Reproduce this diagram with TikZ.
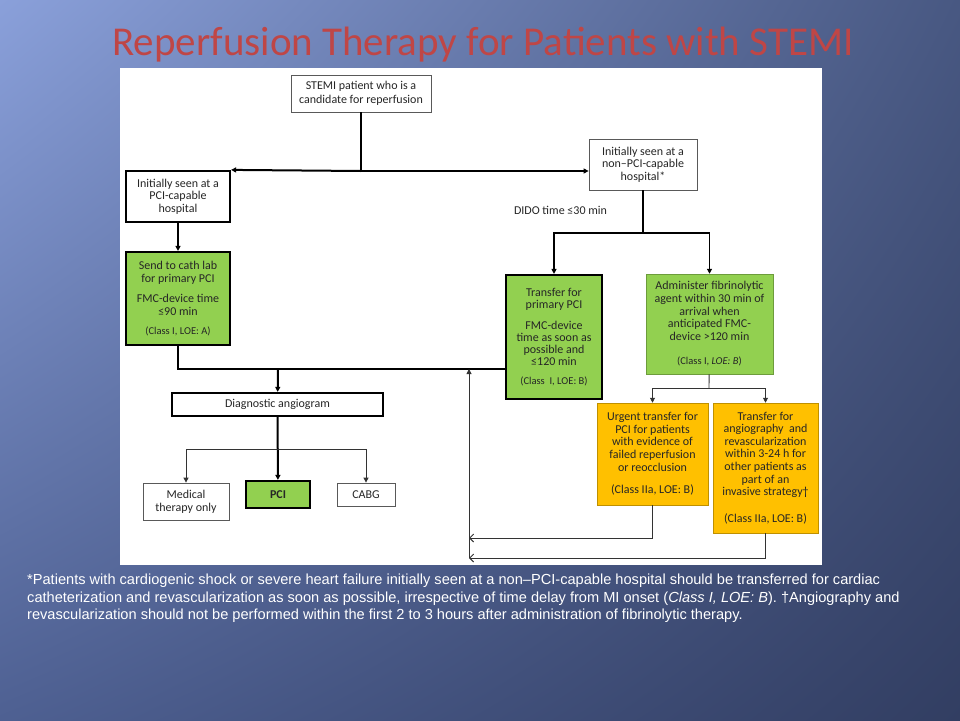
\documentclass[tikz,border=0pt]{standalone}
\usepackage{fontspec}
\setmainfont{Carlito}
\newfontfamily\notefont{Liberation Sans}
\usetikzlibrary{arrows.meta,shadings}

\definecolor{pcigreen}{HTML}{92D050}
\definecolor{lateyellow}{HTML}{FFC000}
\definecolor{titlered}{HTML}{BF4646}
\definecolor{bgul}{RGB}{138,160,218}
\definecolor{bgur}{RGB}{72,88,130}
\definecolor{bgll}{RGB}{78,96,146}
\definecolor{bglr}{RGB}{50,62,98}

\newcommand{\loe}[1]{{\fontsize{10.5}{12}\selectfont #1}}

\begin{document}
\begin{tikzpicture}[x=1pt,y=-1pt]
    \tikzstyle{box}=[rectangle, inner sep=2pt, align=center, text=black!85, font=\fontsize{12}{12.6}\selectfont]
    \tikzstyle{whitebox}=[box, draw=black!65, line width=0.8pt, fill=white]
    \tikzstyle{strongbox}=[box, draw=black, line width=2.2pt, fill=white]
    \tikzstyle{greenbox}=[strongbox, fill=pcigreen]
    \tikzstyle{lyticbox}=[box, draw=pcigreen!75!black, line width=0.5pt, fill=pcigreen]
    \tikzstyle{yellowbox}=[box, draw=lateyellow!75!black, line width=0.5pt, fill=lateyellow]
    \tikzstyle{heavyline}=[line width=2pt]
    \tikzstyle{midline}=[line width=1.5pt]
    \tikzstyle{thinline}=[line width=0.9pt, black!80]
    \tikzstyle{arrowed}=[-{Triangle[length=5pt,width=5pt]}]
    \tikzstyle{barbed}=[-{Straight Barb[length=4pt,width=8pt]}]
    \tikzstyle{note}=[anchor=base west, inner sep=0pt, text=white, font=\notefont\fontsize{14.6}{17}\selectfont]

    \useasboundingbox (0,0) rectangle (960,720);
    \shade[upper left=bgul, upper right=bgur, lower left=bgll, lower right=bglr] (0,0) rectangle (960,720);
    \fill[white] (120,68) rectangle (822,565);

    % title
    \node[text=titlered, font=\fontsize{41}{44}\selectfont] (title) at (483,45) {Reperfusion Therapy for Patients with STEMI};

    % boxes
    \node[whitebox, minimum width=140pt, minimum height=37pt, font=\fontsize{12}{14.5}\selectfont] (stemi) at (361,93.5) {STEMI patient who is a\\candidate for reperfusion};
    \node[strongbox, minimum width=104pt, minimum height=51pt] (pcicap) at (178,196.5) {Initially seen at a\\PCI-capable\\hospital};
    \node[whitebox, minimum width=108pt, minimum height=51pt] (nonpci) at (643,164.5) {Initially seen at a\\non--PCI-capable\\hospital*};
    \node[greenbox, minimum width=104pt, minimum height=93pt] (sendcath) at (178,298.5) {Send to cath lab\\for primary PCI\\[8pt]FMC-device time\\≤90 min\\[6pt]\loe{(Class I, LOE: A)}};
    \node[greenbox, minimum width=96pt, minimum height=124pt, font=\fontsize{12}{12}\selectfont] (transfer) at (554,337) {Transfer for\\primary PCI\\[9pt]FMC-device\\time as soon as\\possible and\\≤120 min\\[7pt]\loe{(Class\ \ I, LOE: B)}};
    \node[lyticbox, minimum width=127pt, minimum height=100pt] (admin) at (709.5,324) {Administer fibrinolytic\\agent within 30 min of\\arrival when\\anticipated FMC-\\device >120 min\\[12pt]\loe{(Class I, \textit{LOE: B})}};
    \node[strongbox, minimum width=211pt, minimum height=23pt] (diag) at (277.5,404.5) {Diagnostic angiogram};
    \node[whitebox, minimum width=86pt, minimum height=37pt] (medical) at (186,501.5) {Medical\\therapy only};
    \node[greenbox, minimum width=64pt, minimum height=27pt] (pci) at (278,494.5) {\textbf{PCI}};
    \node[whitebox, minimum width=58pt, minimum height=23pt] (cabg) at (366,494.5) {CABG};
    \node[yellowbox, minimum width=111pt, minimum height=102pt] (urgent) at (652.5,454) {Urgent transfer for\\PCI for patients\\with evidence of\\failed reperfusion\\or reocclusion\\[10pt](Class IIa, LOE: B)};
    \node[yellowbox, minimum width=105pt, minimum height=130pt] (angio) at (765.5,468) {Transfer for\\angiography\ \ and\\revascularization\\within 3-24 h for\\other patients as\\part of an\\invasive strategy†\\[14pt](Class IIa, LOE: B)};
    \node[box, inner sep=0pt] (dido) at (560.5,210) {DIDO time ≤30 min};

    % branch points
    \coordinate (split) at (361,171);
    \coordinate (didofork) at (643,233);
    \coordinate (join) at (278,369);
    \coordinate (diagfork) at (278,449);
    \coordinate (lyticfork) at (709,388);
    \coordinate (back1) at (469,538);
    \coordinate (back2) at (469,558);

    % connectors
    \draw[heavyline] (stemi) -- (split);
    \draw[heavyline, arrowed] (split) -- (pcicap.north east);
    \draw[midline, arrowed] (split) -- (split -| nonpci.west);
    \draw[heavyline, arrowed] (pcicap) -- (sendcath);
    \draw[midline] (nonpci) -- (didofork);
    \draw[midline, arrowed] (didofork) -| (transfer);
    \draw[midline, arrowed] (didofork) -| (admin);
    \draw[heavyline] (sendcath) |- (join) -- (join -| transfer.west);
    \draw[heavyline, arrowed] (join) -- (diag);
    \draw[heavyline, arrowed] (diag) -- (pci);
    \draw[thinline, arrowed] (diagfork) -| (medical);
    \draw[thinline, arrowed] (diagfork) -| (cabg);
    \draw[thinline] (admin) -- (lyticfork);
    \draw[thinline, arrowed] (lyticfork) -| (urgent);
    \draw[thinline, arrowed] (lyticfork) -| (angio);
    \draw[thinline, barbed] (urgent) |- (back1);
    \draw[thinline, barbed] (angio) |- (back2);
    \draw[thinline, arrowed] (back2) -- (back2 |- join);

    % footnote
    \node[note] (note1) at (27,584) {*Patients with cardiogenic shock or severe heart failure initially seen at a non–PCI-capable hospital should be transferred for cardiac};
    \node[note] (note2) at (27,602) {catheterization and revascularization as soon as possible, irrespective of time delay from MI onset (\textit{Class I, LOE: B}). †Angiography and};
    \node[note] (note3) at (27,619) {revascularization should not be performed within the first 2 to 3 hours after administration of fibrinolytic therapy.};
\end{tikzpicture}
\end{document}
